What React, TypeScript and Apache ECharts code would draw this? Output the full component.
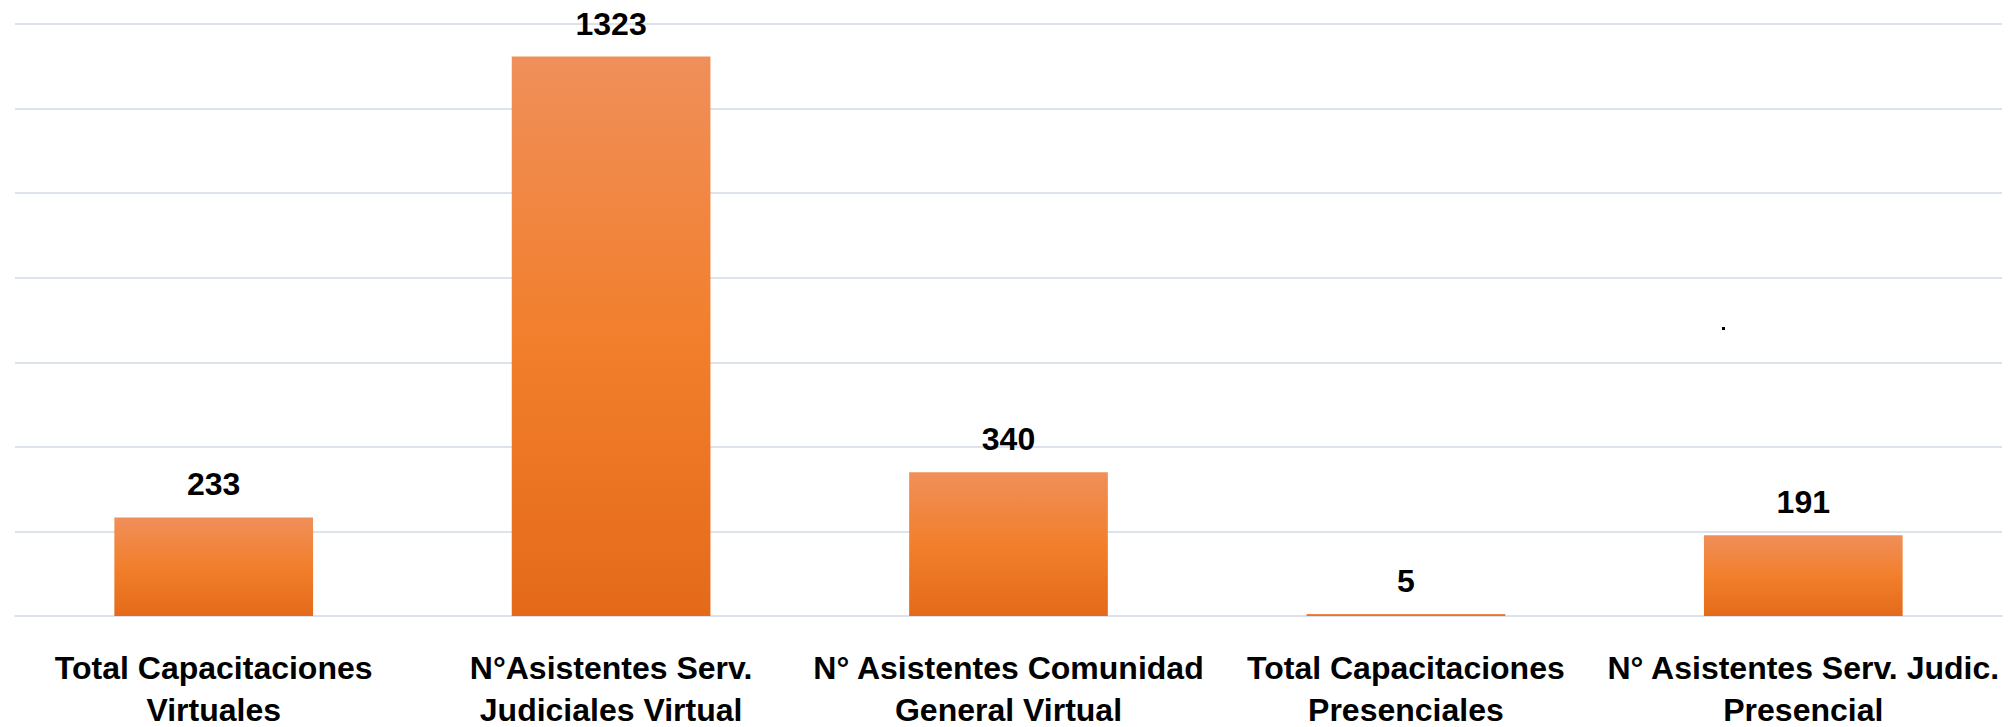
import React, { useEffect, useRef } from "react";
import * as echarts from "echarts";

const categories = [
  "Total Capacitaciones\nVirtuales",
  "N°Asistentes Serv.\nJudiciales Virtual",
  "N° Asistentes Comunidad\nGeneral Virtual",
  "Total Capacitaciones\nPresenciales",
  "N° Asistentes Serv. Judic.\nPresencial",
];
const values = [233, 1323, 340, 5, 191];

const FONT = "'Liberation Sans', Arial, sans-serif";

export default function App() {
  const ref = useRef<HTMLDivElement>(null);
  useEffect(() => {
    if (!ref.current) return;
    const chart = echarts.init(ref.current, undefined, { renderer: "svg" });
    chart.setOption({
      animation: false,
      backgroundColor: "#ffffff",
      grid: {
        left: 15,
        right: 8,
        top: 24,
        bottom: 111,
        containLabel: false,
        outerBoundsMode: "none",
      },
      xAxis: {
        type: "category",
        data: categories,
        axisTick: { show: false },
        axisLine: { show: true, lineStyle: { color: "#DDE3EA", width: 2 } },
        axisLabel: {
          interval: 0,
          margin: 31,
          color: "#000000",
          fontFamily: FONT,
          fontWeight: "bold",
          fontSize: 32,
          lineHeight: 42,
        },
      },
      yAxis: {
        type: "value",
        min: 0,
        max: 1400,
        interval: 200,
        axisLabel: { show: false },
        axisLine: { show: false },
        axisTick: { show: false },
        splitLine: { lineStyle: { color: "#DDE3EA", width: 2 } },
      },
      series: [
        {
          type: "bar",
          data: values,
          barCategoryGap: "50%",
          itemStyle: {
            color: new echarts.graphic.LinearGradient(0, 0, 0, 1, [
              { offset: 0, color: "#F08F5A" },
              { offset: 0.5, color: "#F27F2C" },
              { offset: 1, color: "#E46A1A" },
            ]),
          },
          label: {
            show: true,
            position: "top",
            distance: 17,
            color: "#000000",
            fontFamily: FONT,
            fontWeight: "bold",
            fontSize: 32,
          },
        },
      ],
      graphic: [
        {
          type: "rect",
          shape: { x: 1722, y: 327, width: 3, height: 3 },
          style: { fill: "#000000" },
        },
      ],
    });
    return () => chart.dispose();
  }, []);
  return (
    <div
      ref={ref}
      style={{ position: "absolute", left: 0, top: 0, width: 2010, height: 727 }}
    />
  );
}
